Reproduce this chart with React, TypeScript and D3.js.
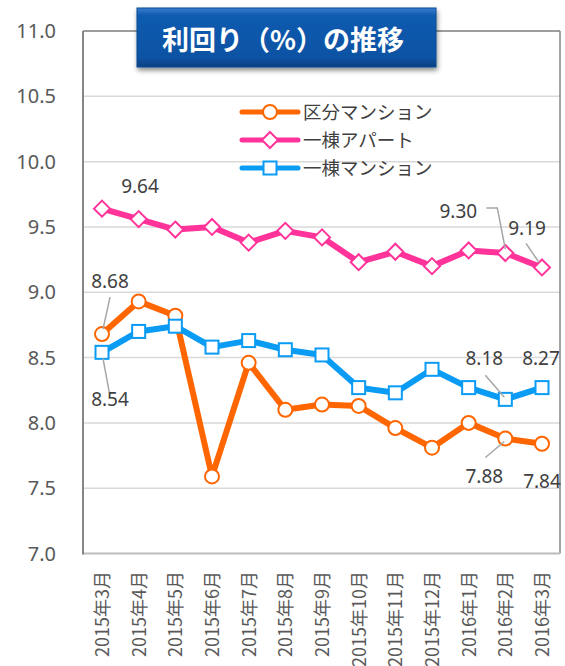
import React from "react";
import * as d3 from "d3";

const months = [
  "2015年3月", "2015年4月", "2015年5月", "2015年6月", "2015年7月", "2015年8月", "2015年9月",
  "2015年10月", "2015年11月", "2015年12月", "2016年1月", "2016年2月", "2016年3月",
];
const kubun = [8.68, 8.93, 8.82, 7.59, 8.46, 8.1, 8.14, 8.13, 7.96, 7.81, 8.0, 7.88, 7.84];
const apart = [9.64, 9.56, 9.48, 9.5, 9.38, 9.47, 9.42, 9.23, 9.31, 9.2, 9.32, 9.3, 9.19];
const mansion = [8.54, 8.7, 8.74, 8.58, 8.63, 8.56, 8.52, 8.27, 8.23, 8.41, 8.27, 8.18, 8.27];
const yTicks = [7.0, 7.5, 8.0, 8.5, 9.0, 9.5, 10.0, 10.5, 11.0];
const seriesNames = ["区分マンション", "一棟アパート", "一棟マンション"];

const W = 565;
const H = 666;
const plot = { left: 83, right: 560, top: 31, bottom: 553.5 };

const COLORS = ["#ff6600", "#ff3399", "#0a9bf5"];
const LABEL_FONT = "'Noto Sans', 'Liberation Sans', sans-serif";
const JP_FONT = "'Noto Sans CJK JP', 'Noto Sans', sans-serif";

// which points carry a value label, and where the text goes (offset from the point)
const callouts = [
  { s: 1, i: 0, dx: 38, dy: -22, leader: null },
  { s: 0, i: 0, dx: 8, dy: -53, leader: [[8, -37], [1, -5]] },
  { s: 2, i: 0, dx: 8, dy: 47, leader: [[1, 6], [8, 44]] },
  { s: 1, i: 11, dx: -47, dy: -42, leader: [[-19, -45], [-8, -45], [0, -4]] },
  { s: 1, i: 12, dx: -15, dy: -39, leader: [[-16, -24], [-3, -5]] },
  { s: 2, i: 11, dx: -21, dy: -41, leader: [[-20, -24], [-1, -2]] },
  { s: 2, i: 12, dx: -1, dy: -29, leader: null },
  { s: 0, i: 11, dx: -21, dy: 38, leader: [[-20, 19], [-1, 3]] },
  { s: 0, i: 12, dx: 0, dy: 38, leader: null },
];

function Marker({ kind, x, y, color }: { kind: number; x: number; y: number; color: string }) {
  if (kind === 0) {
    return <circle cx={x} cy={y} r={7} fill="#fff" stroke={color} strokeWidth={2} />;
  }
  if (kind === 1) {
    const r = 8;
    return (
      <path
        d={`M${x},${y - r}L${x + r},${y}L${x},${y + r}L${x - r},${y}Z`}
        fill="#fff"
        stroke={color}
        strokeWidth={2}
      />
    );
  }
  return <rect x={x - 6.5} y={y - 6.5} width={13} height={13} fill="#fff" stroke={color} strokeWidth={2} />;
}

export default function App() {
  const x = d3.scalePoint<string>().domain(months).range([102, 542]);
  const y = d3.scaleLinear().domain([7, 11]).range([plot.bottom, plot.top]);
  const series = [kubun, apart, mansion];

  const line = d3
    .line<number>()
    .x((_, i) => x(months[i]) as number)
    .y((d) => y(d));

  return (
    <svg width={W} height={H} style={{ position: "absolute", left: 0, top: 0, background: "#fff" }}>
      <defs>
        <linearGradient id="titleGrad" x1="0" y1="0" x2="0" y2="1">
          <stop offset="0" stopColor="#3b7fd0" />
          <stop offset="0.12" stopColor="#115cb0" />
          <stop offset="0.85" stopColor="#0a52a3" />
          <stop offset="1" stopColor="#063f80" />
        </linearGradient>
        <filter id="shadow" x="-10%" y="-20%" width="120%" height="160%">
          <feDropShadow dx="1" dy="3" stdDeviation="2.5" floodColor="#000" floodOpacity="0.45" />
        </filter>
      </defs>

      {/* gridlines */}
      {yTicks.map((t) => (
        <line key={t} x1={plot.left} x2={plot.right} y1={y(t)} y2={y(t)} stroke="#d9d9d9" strokeWidth={1.5} />
      ))}
      {/* plot border */}
      <line x1={plot.left} x2={plot.right} y1={plot.top} y2={plot.top} stroke="#868686" strokeWidth={1.5} />
      <line x1={plot.right} x2={plot.right} y1={plot.top} y2={plot.bottom} stroke="#868686" strokeWidth={1.5} />
      <line x1={plot.left} x2={plot.right} y1={plot.bottom} y2={plot.bottom} stroke="#bfbfbf" strokeWidth={2} />
      <line x1={plot.left} x2={plot.left} y1={plot.top} y2={plot.bottom + 1} stroke="#868686" strokeWidth={2} />

      {/* y tick labels */}
      {yTicks.map((t) => (
        <text
          key={t}
          x={56}
          y={y(t)}
          dy="0.35em"
          textAnchor="end"
          fontFamily={LABEL_FONT}
          fontSize={20}
          fill="#595959"
        >
          {d3.format(".1f")(t)}
        </text>
      ))}

      {/* x tick labels */}
      {months.map((m) => (
        <text
          key={m}
          transform={`translate(${(x(m) as number) + 7},571) rotate(-90)`}
          textAnchor="end"
          fontFamily={JP_FONT}
          fontSize={18}
          fill="#595959"
        >
          {m}
        </text>
      ))}

      {/* series lines + markers */}
      {series.map((vals, s) => (
        <g key={s}>
          <path d={line(vals) as string} fill="none" stroke={COLORS[s]} strokeWidth={6} strokeLinejoin="round" />
          {vals.map((v, i) => (
            <Marker key={i} kind={s} x={x(months[i]) as number} y={y(v)} color={COLORS[s]} />
          ))}
        </g>
      ))}

      {/* value callouts */}
      {callouts.map((c, k) => {
        const vals = series[c.s];
        const px = x(months[c.i]) as number;
        const py = y(vals[c.i]);
        return (
          <g key={k}>
            {c.leader && (
              <polyline
                points={c.leader.map(([lx, ly]) => `${px + lx},${py + ly}`).join(" ")}
                fill="none"
                stroke="#a6a6a6"
                strokeWidth={1.5}
              />
            )}
            <text
              x={px + c.dx}
              y={py + c.dy}
              dy="0.35em"
              textAnchor="middle"
              fontFamily={LABEL_FONT}
              fontSize={19}
              fill="#404040"
            >
              {vals[c.i].toFixed(2)}
            </text>
          </g>
        );
      })}

      {/* legend */}
      {seriesNames.map((name, s) => {
        const ly = 112 + s * 28;
        return (
          <g key={name}>
            <line x1={242} x2={298} y1={ly} y2={ly} stroke={COLORS[s]} strokeWidth={5} strokeLinecap="round" />
            <Marker kind={s} x={270} y={ly} color={COLORS[s]} />
            <text x={303} y={ly} dy="0.36em" fontFamily={JP_FONT} fontSize={18.5} fill="#404040">
              {name}
            </text>
          </g>
        );
      })}

      {/* title box */}
      <g filter="url(#shadow)">
        <rect x={137} y={8} width={299} height={59} fill="url(#titleGrad)" stroke="#0a4a93" strokeWidth={1} />
      </g>
      <text
        x={283}
        y={40}
        dy="0.36em"
        textAnchor="middle"
        fontFamily={JP_FONT}
        fontWeight="bold"
        fontSize={27}
        fill="#fff"
      >
        利回り（%）の推移
      </text>
    </svg>
  );
}
